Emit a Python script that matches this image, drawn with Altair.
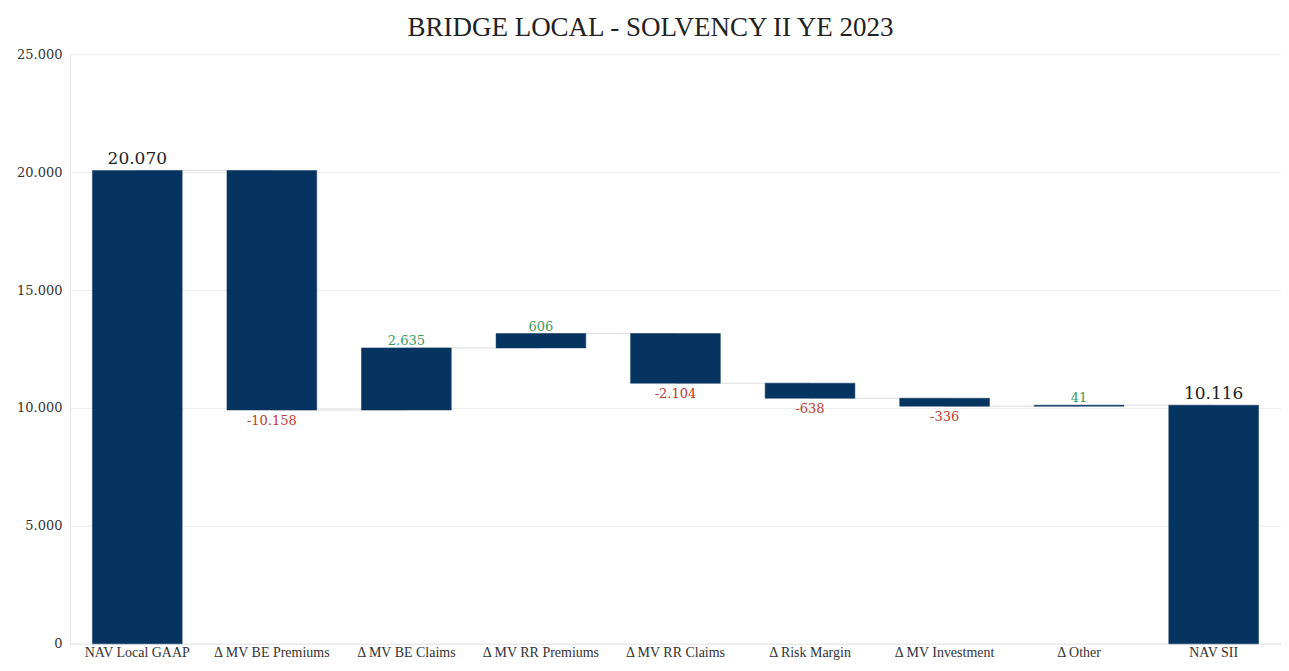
import altair as alt
import pandas as pd

categories = ["NAV Local GAAP", "Δ MV BE Premiums", "Δ MV BE Claims", "Δ MV RR Premiums",
              "Δ MV RR Claims", "Δ Risk Margin", "Δ MV Investment", "Δ Other", "NAV SII"]
values = [20070, -10158, 2635, 606, -2104, -638, -336, 41, 10116]
kinds = ["total", "delta", "delta", "delta", "delta", "delta", "delta", "delta", "total"]
y_ticks = [0, 5000, 10000, 15000, 20000, 25000]

rows = []
running = 0
for cat, val, kind in zip(categories, values, kinds):
    if kind == "total":
        start, end = 0, val
        running = val
    else:
        start = running
        end = running + val
        running = end
    lab = f"{val:,}".replace(",", ".")
    rows.append({"cat": cat, "value": val, "kind": kind, "start": start, "end": end, "label": lab})
df = pd.DataFrame(rows)
df["sign"] = ["total" if k == "total" else ("pos" if v >= 0 else "neg") for k, v in zip(df["kind"], df["value"])]
df["next_cat"] = list(df["cat"].iloc[1:]) + [None]

conn = df.iloc[:-1].copy()

FONT = "DejaVu Serif"
LFONT = "Liberation Serif"
BAR = "#063461"

xenc = alt.X("cat:N", sort=categories, title=None,
             scale=alt.Scale(paddingInner=0.333, paddingOuter=0.167, round=False),
             axis=alt.Axis(labelAngle=0, ticks=False, domainColor="#e4e4e4",
                           labelFont=LFONT, labelFontSize=14, labelColor="#333",
                           labelPadding=2, grid=False))
yscale = alt.Scale(domain=[0, 25000], nice=False)

base = alt.Chart(df)

connectors = alt.Chart(conn).mark_rule(color="#dcdcdc", strokeWidth=1).encode(
    x=xenc,
    x2=alt.X2("next_cat"),
    y=alt.Y("end:Q", scale=yscale),
)

bars = base.mark_bar(color=BAR, stroke=BAR, strokeWidth=0.5).encode(
    x=xenc,
    y=alt.Y("start:Q", scale=yscale, title=None,
            axis=alt.Axis(values=y_ticks, ticks=False, gridColor="#ececec",
                          domainColor="#e4e4e4", labelFont=FONT, labelFontSize=13,
                          labelColor="#333", labelPadding=8,
                          labelExpr="replace(format(datum.value, ','), ',', '.')")),
    y2="end:Q",
)

tot_labels = base.transform_filter("datum.sign == 'total'").mark_text(
    baseline="bottom", dy=-2, font=FONT, fontSize=17, color="#222"
).encode(x=xenc, y=alt.Y("end:Q", scale=yscale), text="label:N")

pos_labels = base.transform_filter("datum.sign == 'pos'").mark_text(
    baseline="bottom", dy=0, font=FONT, fontSize=13, color="#3a9a5c"
).encode(x=xenc, y=alt.Y("end:Q", scale=yscale), text="label:N")

neg_labels = base.transform_filter("datum.sign == 'neg'").mark_text(
    baseline="top", dy=5, font=FONT, fontSize=13, color="#c0392b"
).encode(x=xenc, y=alt.Y("end:Q", scale=yscale), text="label:N")

chart = alt.layer(connectors, bars, tot_labels, pos_labels, neg_labels).properties(
    width=1212, height=590,
    autosize=alt.AutoSizeParams(type="none"),
    padding={"left": 62, "top": 46, "right": 0, "bottom": 18},
    title=alt.TitleParams("BRIDGE LOCAL - SOLVENCY II YE 2023", font=LFONT, fontSize=27,
                          fontWeight="normal", color="#222", anchor="middle", offset=6, dx=-25),
).configure_view(strokeWidth=0)

chart.save("out.html", embed_options={"renderer": "svg", "actions": False})
